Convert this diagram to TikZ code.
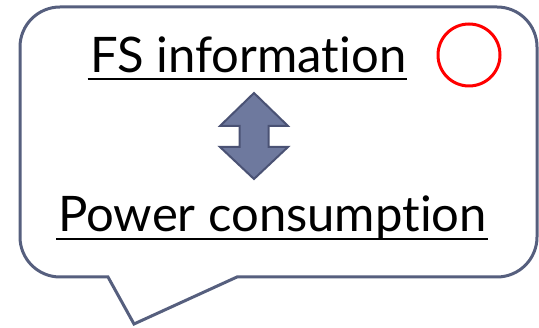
\documentclass[tikz,border=0pt]{standalone}
\usepackage{fontspec}
\setmainfont{Lato}[Ligatures={NoCommon,NoContextual}]
\usetikzlibrary{positioning}

\definecolor{bubbleline}{RGB}{86,95,126}
\definecolor{arrowfill}{RGB}{110,121,158}
\definecolor{arrowline}{RGB}{74,82,116}

\begin{document}
\begin{tikzpicture}[x=1pt, y=1pt,
    bigtext/.style={inner sep=0pt, anchor=base, font=\fontsize{49}{50}\selectfont},
    underl/.style={line width=2pt}]
    \useasboundingbox (0,0) rectangle (539,328);

    % Speech bubble with its tail at the bottom left
    \draw[bubbleline, line width=3pt, line join=miter, fill=white]
        (108,51) -- (134,4) -- (237,51) -- (497,51)
        arc[start angle=-90, end angle=0, radius=40] -- (537,281)
        arc[start angle=0, end angle=90, radius=40] -- (60,321)
        arc[start angle=90, end angle=180, radius=40] -- (20,91)
        arc[start angle=180, end angle=270, radius=40] -- cycle;

    % Define the two texts
    \node[bigtext] (fs) at (248.5,255) {FS information};
    \node[bigtext] (power) at (272.5,96) {Power consumption};

    % Underline both texts
    \draw[underl] ([xshift=-3pt, yshift=-6pt]fs.base west) -- ([xshift=1pt, yshift=-6pt]fs.base east);
    \draw[underl] ([xshift=-2pt, yshift=-7pt]power.base west) -- ([xshift=1pt, yshift=-7pt]power.base east);

    % Red circle
    \node[circle, draw=red, line width=3pt, minimum size=62pt, inner sep=0pt] (mark) at (469,273) {};

    % Double arrow between the texts
    \draw[arrowline, fill=arrowfill, line width=2pt, line join=miter]
        (254,235) -- (288,202) -- (268.5,202) -- (268.5,181) -- (288,181)
        -- (254,149) -- (220,181) -- (239.5,181) -- (239.5,202) -- (220,202) -- cycle;
\end{tikzpicture}
\end{document}
